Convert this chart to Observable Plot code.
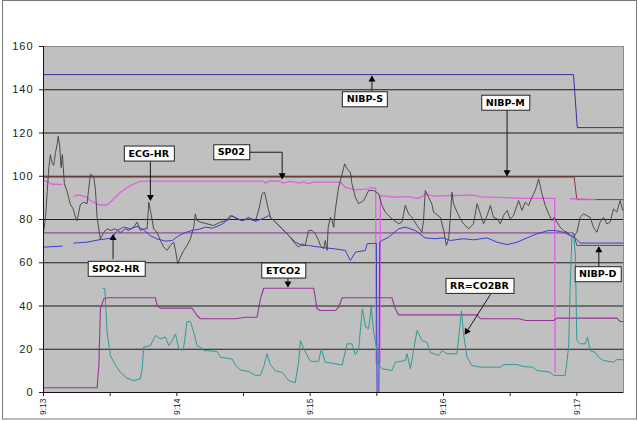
<!DOCTYPE html>
<html><head><meta charset="utf-8">
<script src="https://cdn.jsdelivr.net/npm/d3@7"></script>
<script src="https://cdn.jsdelivr.net/npm/@observablehq/plot@0.6"></script>
<style>
html,body{margin:0;padding:0;background:#fff;}
#chart{width:638px;height:421px;}
</style></head><body><div id="chart"></div>
<script>
// time in seconds after 9:13:00
const timeTicks = [0, 30, 60, 90, 120, 150, 180, 210, 240];
const timeLabels = ["9:13", "", "9:14", "", "9:15", "", "9:16", "", "9:17"];
const yTicks = [0, 20, 40, 60, 80, 100, 120, 140, 160];
const gridValues = [20, 40, 60, 80, 100, 120, 140];

const nibpS = [[0,147],[238.5,147],[240.2,122.5],[260.7,122.5]];
const nibpM = [[0,99.6],[238.8,99.6],[240,89.2],[260.7,89.2]];
const nibpD = [[0,73.8],[238.5,73.8],[240,68],[260.7,68]];
const sp02 = [[0,98.2],[2.3,97.2],[3.8,96.3],[8.4,96.2],[9,NaN],[13.6,90.8],[15.8,91.4],[19.6,90.3],[21.1,88.8],[24.9,86.7],[28.6,86.7],[30.9,88.8],[34.6,92.6],[39.1,95.7],[43.6,97.7],[99,97.7],[99.8,96.8],[102,97.9],[106,97.7],[108.1,96.8],[111,97.6],[115.6,96.8],[117.1,97.6],[118.6,96.5],[121.6,97.3],[133.6,97.3],[135.8,94.9],[140.3,93.7],[146.3,94.2],[147.8,94.7],[149.5,94.5],[149.7,13.5],[151.4,13.5],[151.6,91],[158.2,90.3],[164.1,90.6],[168.1,89.8],[170.3,90.5],[171.8,91.8],[175.6,90.8],[183.8,91.1],[193.5,91.3],[196.6,90.5],[205.6,90.2],[216,89.8],[230,89.8],[230.2,9.4],[231,NaN],[237,89.6],[248,89.3]];
const ecgHR = [[0,74],[0.9,81],[1.7,93],[2.4,104],[3.1,110],[3.9,106],[4.6,105],[5.4,111],[6.2,115],[6.6,118.5],[7.3,114],[7.9,104],[8.5,110],[9.4,96.5],[10.6,93],[12.1,87],[13.3,85],[14.4,81],[15.1,79.5],[16.6,87],[18.1,88],[19.6,87.3],[21.1,101],[22.6,99.6],[23.4,93.4],[24.1,81],[25.6,71],[27.1,74],[28.6,75.7],[30.1,75],[32.4,75.7],[34.6,74],[36.9,75.7],[38.4,75],[40.6,76.4],[42.1,78.8],[43.6,75],[45.1,75.7],[46.6,75.7],[47.4,88],[48.1,84.2],[49.6,75.7],[51.1,74],[52.6,70.3],[54.1,67.2],[55.6,65.7],[57.1,68],[58.6,69.5],[59.4,65.7],[60.4,59.5],[61.6,62.6],[63.1,65.7],[64.6,68],[66.1,71],[67.6,76.4],[68.3,82.6],[69.1,79.5],[70.6,78.8],[73.6,78],[76.6,77.2],[79.6,78.8],[82.6,79.5],[84.9,81.8],[87.1,80.3],[89.4,79.5],[92.3,81],[95.4,79.5],[96.8,84.2],[98.4,92],[99.5,92.6],[100.6,87.3],[102.1,81],[104.3,78.8],[107.4,75.7],[110.3,72.6],[113.3,68.8],[114.8,67.2],[116.4,68.8],[117.8,68],[118.6,71.8],[119.3,74.9],[120.9,74.9],[122.3,73.4],[123.8,70.3],[124.6,68],[126.1,66.4],[126.8,70.3],[127.6,65.7],[128.1,76.4],[129.1,81],[129.9,79.5],[130.6,76.4],[131.3,84.2],[132.8,94.9],[134.4,101.1],[135.5,105.7],[136.6,103.4],[138.1,101.9],[138.8,96.5],[140.3,90.3],[141.8,87.3],[144.1,88.8],[146.3,93.4],[148.6,93.4],[150.8,91.9],[152.3,86.5],[153.8,83.4],[156.8,80.3],[159.8,78],[161.3,78.8],[162.8,86.5],[164.3,82.6],[165.8,81],[168.1,77.2],[170.3,74.1],[171,79.5],[171.8,93.4],[173.3,90.3],[174.8,87],[175.5,83.4],[178.6,81],[180.1,74.9],[181.3,68],[182.3,71.1],[183.1,81],[183.8,92.6],[184.5,87.3],[186.1,83.4],[187.6,80.3],[189,78],[191.3,75.7],[193.5,78],[195.1,87.3],[196.6,82.6],[198,78],[199.6,81.8],[201.1,86.5],[202.5,81],[204.1,80.3],[205.6,78],[207,81.8],[208.6,84.2],[210,80.3],[211.5,81.8],[213.8,88.8],[215.3,84.2],[216.8,88],[218.3,86.5],[219.8,90.3],[221.3,93.4],[222.8,98.8],[224.3,91.9],[225.8,86.5],[227.3,82.6],[228.8,79.5],[229.8,81],[231.1,78.8],[232.5,76.4],[234,74.9],[235.6,74.1],[237,72.6],[238.5,71.8],[240,74.1],[241.5,81],[243,82.6],[244.5,81.8],[246,81],[247.5,76.4],[249,74.1],[250.5,78.8],[252,81],[253.5,78],[255,78.8],[256.5,84.9],[258,83.4],[259.5,88.8],[260.7,84.2]];
const spo2HR = [[0,67.2],[8.4,67.7],[9,NaN],[13.6,69.1],[19.6,69.5],[24.9,70.6],[28.6,71.1],[30.9,71.5],[33.1,74.9],[36.1,76.5],[39.1,75.7],[42.1,76.8],[45.1,75.2],[48.1,72.5],[51.1,71],[55,70],[58,70.3],[61,72.6],[64,74],[67,75],[70,75.5],[73,76.5],[76,76],[78.1,76.8],[81.1,78.3],[84.1,81.8],[87.1,80.5],[89.4,79.5],[92.3,80.3],[95.4,79.2],[98.4,80.3],[101.3,81.8],[104.3,78.8],[107.4,75.7],[110.3,72.6],[113.3,69.5],[116.4,68],[119.3,68],[122.3,67.5],[126.8,66.9],[131.3,66.4],[135.8,65.7],[138.1,61],[140.3,64.9],[144.8,65.7],[145.6,68.8],[149.8,69],[150.1,0],[150.9,0],[151.3,69.5],[152.3,70.3],[155.3,71.8],[159.8,75.7],[162.8,76.5],[167.3,74.9],[171.8,71.5],[176.3,71.1],[180.1,71.5],[183.1,70.3],[189,71.1],[193.5,70.6],[199.6,71.5],[204.1,69.5],[208.6,68.4],[213.1,69.5],[217.6,71.5],[222,73.4],[227.3,74.9],[230.3,74.9],[234,74.1],[237,72.6],[239.3,71.5],[241.5,69.1],[260.7,69.1]];
const etco2 = [[0,2.2],[24.1,2.2],[24.9,12.5],[25.6,38.7],[27.1,43.3],[28.6,43.8],[50.4,43.8],[51.1,40.2],[52.6,39],[66.8,39],[69.1,35.6],[70.6,34.1],[86.4,34.1],[90.9,34.8],[96.1,34.8],[97.6,43.3],[99.1,48.2],[121.6,48.2],[123.1,38.7],[124.6,37.9],[131.3,37.9],[132.8,39.4],[134.4,43.8],[156.8,43.8],[158.3,38.7],[159.8,35.9],[195.1,35.9],[196.6,34.1],[214,34.1],[217,33.3],[229.5,33.3],[231.1,34.4],[258,34.4],[259.5,32.8],[260.7,32.8]];
const rrCO2BR = [[26.7,48.2],[27.6,48],[27.9,41.8],[28.6,27.9],[30.1,17.1],[32.4,12.5],[34.6,9.4],[37.6,6.6],[40.6,5.5],[43.6,6.3],[44.4,11],[45.1,21],[48.1,21.7],[50.4,26.4],[52.6,24.8],[54.9,25.6],[56.4,21.7],[57.9,24],[59.4,27.1],[60.9,20.2],[62.4,19.4],[63.1,21],[64.6,32.8],[66.1,32.8],[67.6,27.9],[69.1,21.7],[70.6,21],[72.1,19.4],[78.1,19],[79.6,16.3],[84.9,15.5],[86.5,12.5],[88.6,10.5],[92.3,9.7],[95.4,7.9],[97.6,8],[99.1,12],[100.6,17.9],[102.1,13],[104.3,10],[107.4,9.4],[110.3,5.5],[113.3,4.5],[114.8,14],[115.6,24],[117.1,20.2],[120.1,14.4],[123.8,14.4],[125,20.2],[126.8,14],[131.3,13.3],[134.4,12.7],[136.6,22.5],[138.8,22.5],[140.3,17.5],[141.8,20.2],[143.5,38.7],[145,30.2],[146.3,29.5],[147.5,39.4],[148.6,27.9],[150.1,19.4],[151.1,12.5],[152.3,11],[156.8,10.2],[158.3,14],[162.8,14.8],[163.6,17.9],[165.1,11],[168.1,28.7],[170.3,24],[172.6,23.2],[174.1,18.5],[177.8,17.1],[179.4,19.4],[181.6,17.9],[186.1,17.9],[187.3,30.2],[188.1,37.9],[189,27.1],[190.6,16.3],[192.8,12.5],[196.6,11.7],[205.6,11.7],[207.1,12.9],[213.1,12.9],[216,12],[220.4,11.7],[221.9,10.2],[228,9.4],[229.5,7.9],[234.8,7.9],[236.3,21],[237,48.7],[237.8,72.6],[238.5,73.4],[239.3,64.1],[240,24],[241.5,22.5],[243.8,22.5],[244.8,25.6],[246,19.4],[248.2,18.6],[249.8,16.3],[252,14.8],[256.5,14],[258,15.2],[260.7,15.2]];

const seriesNames = ["NIBP-S","NIBP-M","NIBP-D","SP02","ECG-HR","SPO2-HR","ETCO2","RR=CO2BR"];
const seriesData = [nibpS, nibpM, nibpD, sp02, ecgHR, spo2HR, etco2, rrCO2BR];
const seriesColors = ["#33339a","#993333","#8c2f8c","#e060e0","#404040","#3c3cd0","#993399","#2f9a96"];
const seriesWidths = [1, 1, 1, 1.3, 0.9, 1, 1.1, 1];

// callout labels
const calloutText = ["ECG-HR","SP02","NIBP-S","NIBP-M","SPO2-HR","ETCO2","RR=CO2BR","NIBP-D"];
const calloutX = [47.4, 84.5, 144.6, 207.8, 32.5, 107.9, 196.2, 249.4];
const calloutY = [110.5, 111.1, 135.6, 134, 57.2, 56.4, 49.3, 54.7];
const calloutPaths = [
  [[48.1,106.8],[48.1,89.2]],
  [[92.3,111.1],[107.4,111.1],[107.4,99.2]],
  [[147.8,139.7],[147.8,145.9]],
  [[208.6,130.7],[208.6,100.6]],
  [[31.3,61.8],[31.3,72.6]],
  [[110,52.6],[110,49.2]],
  [[201.1,45.3],[189.8,27.1]],
  [[249.9,57.9],[249.9,67]]
];
const calloutHeads = [[48.1,90.4],[107.4,100.4],[147.8,144.7],[208.6,101.8],[31.3,71.4],[110,50.4],[190.5,28.3],[249.9,65.8]];
const calloutHeadRotate = [180, 180, 0, 180, 0, 180, 212.5, 0];

const lineMarks = seriesData.map((pts, i) => Plot.line(
  pts.map(([t, v]) => ({t, v})),
  {x: "t", y: "v", stroke: seriesColors[i], strokeWidth: seriesWidths[i], curve: "linear"}
));

const pathRows = calloutPaths.flatMap((p, i) => p.map(([t, v]) => ({id: i, t, v})));
const headRows = calloutHeads.map(([t, v], i) => ({t, v, r: calloutHeadRotate[i]}));
const labelRows = calloutText.map((s, i) => ({s, t: calloutX[i], v: calloutY[i]}));

const plot = Plot.plot({
  width: 638,
  height: 421,
  marginLeft: 43,
  marginRight: 15,
  marginTop: 46,
  marginBottom: 29,
  style: {background: "#fff", fontFamily: "'Liberation Sans', Arial, sans-serif", fontSize: "11px", color: "#222", overflow: "visible"},
  x: {domain: [0, 261], ticks: timeTicks, tickFormat: (d) => timeLabels[timeTicks.indexOf(d)], tickRotate: -90, tickSize: 4, tickPadding: 2, label: null},
  y: {domain: [0, 160], ticks: yTicks, tickSize: 4, tickPadding: 6, label: null},
  marks: [
    Plot.frame({fill: "#c0c0c0", stroke: "#8a8a8a"}),
    Plot.ruleY(gridValues, {stroke: "#1e1e1e", strokeWidth: 1}),
    ...lineMarks,
    Plot.ruleY([0], {stroke: "#111"}),
    Plot.ruleX([0], {stroke: "#111"}),
    Plot.line(pathRows, {x: "t", y: "v", z: "id", stroke: "#1a1a1a", strokeWidth: 1}),
    Plot.dot(headRows, {x: "t", y: "v", symbol: "triangle", r: 2.6, fill: "#000", stroke: "none", rotate: "r"}),
    Plot.text(labelRows, {x: "t", y: "v", text: "s", fontWeight: "bold", fontSize: 9.5, fontFamily: "'DejaVu Sans', Verdana, sans-serif", fill: "#000"})
  ]
});

document.getElementById("chart").append(plot);

// axis label sizing
plot.querySelectorAll('[aria-label^="x-axis"] text').forEach(t => { t.style.fontSize = "8.5px"; });
plot.querySelectorAll('[aria-label^="y-axis"] text').forEach(t => { t.style.fontSize = "11px"; t.style.letterSpacing = "1px"; });

// white boxes behind callout labels
const textGroups = plot.querySelectorAll('g[aria-label="text"]');
const tg = textGroups[textGroups.length - 1];
tg.querySelectorAll("text").forEach(t => {
  const b = t.getBBox();
  const r = document.createElementNS("http://www.w3.org/2000/svg", "rect");
  r.setAttribute("x", Math.round(b.x - 4.5) + 0.5);
  r.setAttribute("y", Math.round(b.y - 2.5) + 0.5);
  r.setAttribute("width", Math.round(b.width + 9));
  r.setAttribute("height", Math.round(b.height + 4));
  r.setAttribute("fill", "#fff");
  r.setAttribute("stroke", "#222");
  r.setAttribute("stroke-width", "1");
  if (t.getAttribute("transform")) r.setAttribute("transform", t.getAttribute("transform"));
  t.parentNode.insertBefore(r, t);
});

// outer chart border
const border = document.createElementNS("http://www.w3.org/2000/svg", "rect");
border.setAttribute("x", 2.5); border.setAttribute("y", 0.5);
border.setAttribute("width", 634); border.setAttribute("height", 418.5);
border.setAttribute("fill", "none"); border.setAttribute("stroke", "#777");
plot.appendChild(border);
</script>
</body></html>
